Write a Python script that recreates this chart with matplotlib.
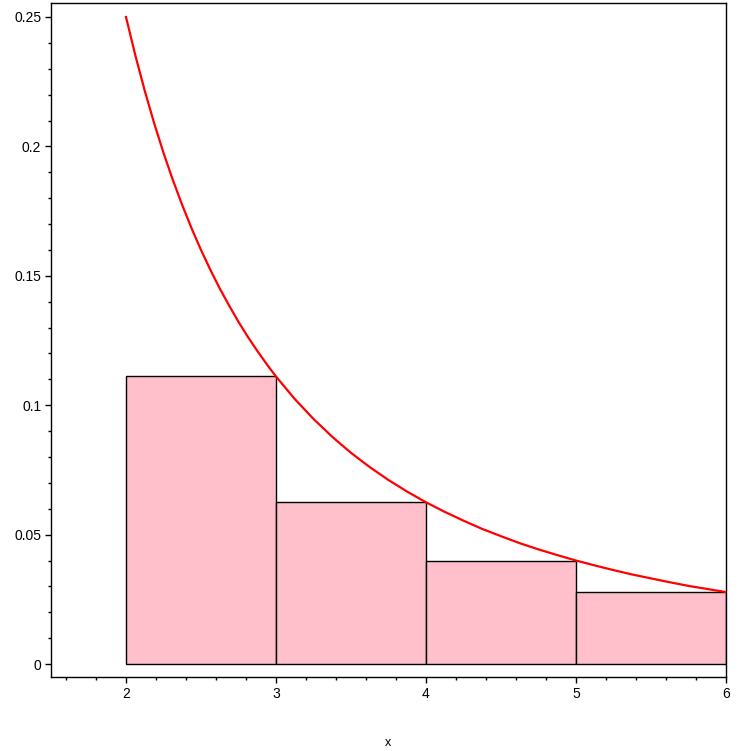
import matplotlib
matplotlib.use("Agg")
import matplotlib.pyplot as plt
from matplotlib.ticker import MultipleLocator

# Rectangles (right-endpoint Riemann sum)
rect_left = [2, 3, 4, 5]
rect_width = [1, 1, 1, 1]
rect_height = [0.1111, 0.0625, 0.0400, 0.0278]

# Curve points
curve_x = [2.0, 2.0625, 2.125, 2.1875, 2.25, 2.3125, 2.375, 2.4375, 2.5, 2.5625,
           2.625, 2.6875, 2.75, 2.8125, 2.875, 2.9375, 3.0, 3.125, 3.25, 3.375,
           3.5, 3.625, 3.75, 3.875, 4.0, 4.125, 4.25, 4.375, 4.5, 4.625, 4.75,
           4.875, 5.0, 5.125, 5.25, 5.375, 5.5, 5.625, 5.75, 5.875, 6.0]
curve_y = [0.2500, 0.2351, 0.2215, 0.2090, 0.1975, 0.1870, 0.1773, 0.1683, 0.1600,
           0.1523, 0.1451, 0.1385, 0.1322, 0.1264, 0.1210, 0.1159, 0.1111, 0.1024,
           0.0947, 0.0878, 0.0816, 0.0761, 0.0711, 0.0666, 0.0625, 0.0588, 0.0554,
           0.0522, 0.0494, 0.0467, 0.0443, 0.0421, 0.0400, 0.0381, 0.0363, 0.0346,
           0.0331, 0.0316, 0.0302, 0.0290, 0.0278]

x_ticks = [2, 3, 4, 5, 6]
y_ticks = [0, 0.05, 0.1, 0.15, 0.2, 0.25]
y_tick_labels = ["0", "0.05", "0.1", "0.15", "0.2", "0.25"]

plt.rcParams['font.family'] = ['Liberation Sans', 'DejaVu Sans']

fig = plt.figure(figsize=(7.51, 7.51), dpi=100)
W = H = 751
ax = fig.add_axes([51 / W, (H - 677) / H, 675 / W, 674 / H])

ax.bar(rect_left, rect_height, width=rect_width, align='edge',
       color='#FFC0CB', edgecolor='black', linewidth=1.0, zorder=2)
ax.plot(curve_x, curve_y, color='#FF0000', linewidth=1.6, zorder=3)

ax.set_xlim(1.5, 6.0)
ax.set_ylim(-0.005, 0.2554)

ax.set_xticks(x_ticks)
ax.set_xticklabels([str(v) for v in x_ticks])
ax.xaxis.set_minor_locator(MultipleLocator(0.2))
ax.set_yticks(y_ticks)
ax.set_yticklabels(y_tick_labels)
ax.yaxis.set_minor_locator(MultipleLocator(0.01))

ax.tick_params(axis='both', which='major', direction='out', length=4, width=1,
               labelsize=10, pad=3, colors='black')
ax.tick_params(axis='both', which='minor', direction='out', length=2.5, width=1)

for s in ax.spines.values():
    s.set_linewidth(1.0)
    s.set_color('black')

fig.text(388 / W, 1 - 743 / H, "x", ha='center', va='center', fontsize=9)

fig.savefig("out.png", dpi=100)
